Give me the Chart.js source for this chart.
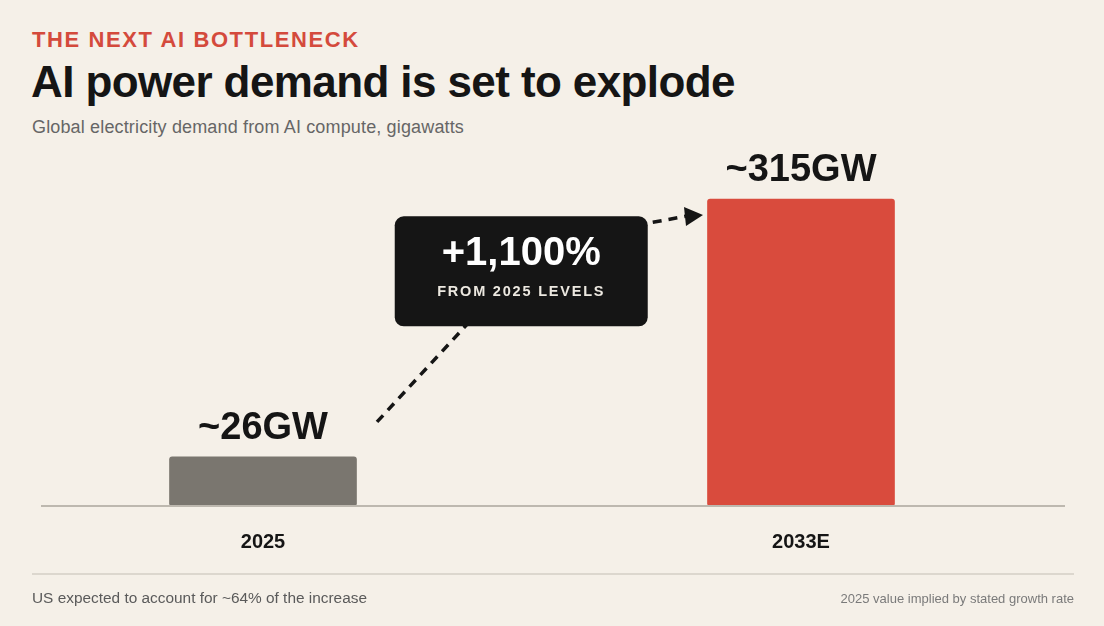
<!DOCTYPE html>
<html>
<head>
<meta charset="utf-8">
<script src="https://cdn.jsdelivr.net/npm/chart.js@4/dist/chart.umd.min.js"></script>
<style>
  html, body { margin: 0; padding: 0; }
  body {
    width: 1104px; height: 626px; overflow: hidden; position: relative;
    background: #f5f0e8; font-family: "Liberation Sans", Arial, Helvetica, sans-serif;
  }
  .kicker { position: absolute; left: 32px; top: 27px; font-size: 22px; font-weight: bold;
    letter-spacing: 1.6px; color: #d44a3c; }
  .title { position: absolute; left: 31px; top: 57px; font-size: 44px; font-weight: bold;
    color: #151515; letter-spacing: -0.6px; }
  .subtitle { position: absolute; left: 32px; top: 117px; font-size: 18px; color: #666;
    letter-spacing: 0.15px; }
  .rule { position: absolute; left: 32px; width: 1042px; top: 573px; height: 2px; background: #dcd7ce; }
  .foot-l { position: absolute; left: 32px; top: 589px; font-size: 15.4px; color: #5a5a5a; }
  .foot-r { position: absolute; right: 30px; top: 591px; font-size: 13px; color: #7a7a7a; }
  #wrap { position: absolute; left: -6px; top: 0; width: 1076px; height: 626px; }
</style>
</head>
<body>
<div class="kicker">THE NEXT AI BOTTLENECK</div>
<div class="title">AI power demand is set to explode</div>
<div class="subtitle">Global electricity demand from AI compute, gigawatts</div>
<div id="wrap"><canvas id="chart"></canvas></div>
<div class="rule"></div>
<div class="foot-l">US expected to account for ~64% of the increase</div>
<div class="foot-r">2025 value implied by stated growth rate</div>

<script>
// data
const years = ["2025", "2033E"];
const demandGW = [26, 315];
const barColors = ["#7a766f", "#d94b3d"];
const growthLabel = "+1,100%";
const growthSub = "FROM 2025 LEVELS";

// the short bar is lifted so it stays visible, like the original
const axisFloor = -29;
const axisTop = 370;

const FONT = '"Liberation Sans", Arial, Helvetica, sans-serif';

const annotations = {
  id: "annotations",
  afterDraw(chart) {
    const ctx = chart.ctx;
    const area = chart.chartArea;
    const x = chart.scales.x;
    const y = chart.scales.y;
    const bars = chart.getDatasetMeta(0).data;

    // baseline
    ctx.save();
    ctx.strokeStyle = "#bdb8af";
    ctx.lineWidth = 2;
    ctx.beginPath();
    ctx.moveTo(47, area.bottom);
    ctx.lineTo(1071, area.bottom);
    ctx.stroke();

    // value labels
    ctx.fillStyle = "#151515";
    ctx.font = "bold 38px " + FONT;
    ctx.textAlign = "center";
    ctx.textBaseline = "alphabetic";
    bars.forEach((bar, i) => {
      ctx.fillText("~" + demandGW[i] + "GW", bar.x, bar.y - 18);
    });

    // callout box position
    const cx = x.getPixelForValue(0.48);
    const cy = y.getPixelForValue(234);
    const bw = 253, bh = 110;
    const bx = cx - bw / 2, by = cy - bh / 2;

    // dashed arrow
    ctx.strokeStyle = "#151515";
    ctx.lineWidth = 3.5;
    ctx.setLineDash([9, 7]);
    ctx.beginPath();
    ctx.moveTo(bars[0].x + 114, y.getPixelForValue(demandGW[0]) - 35);
    ctx.lineTo(bx + 76, by + bh - 6);
    ctx.stroke();
    const tipX = bars[1].x - 98, tipY = bars[1].y + 16;
    ctx.beginPath();
    ctx.moveTo(bx + bw + 5, by + 6);
    ctx.lineTo(tipX - 16, tipY + 1);
    ctx.stroke();
    ctx.setLineDash([]);
    ctx.fillStyle = "#151515";
    ctx.beginPath();
    ctx.moveTo(tipX, tipY);
    ctx.lineTo(tipX - 19, tipY - 8);
    ctx.lineTo(tipX - 17, tipY + 11);
    ctx.closePath();
    ctx.fill();

    // box
    ctx.fillStyle = "#151515";
    ctx.beginPath();
    ctx.roundRect(bx, by, bw, bh, 9);
    ctx.fill();
    ctx.fillStyle = "#ffffff";
    ctx.font = "bold 40px " + FONT;
    ctx.fillText(growthLabel, cx, by + 49);
    ctx.fillStyle = "#ece8e0";
    ctx.font = "bold 14.5px " + FONT;
    ctx.letterSpacing = "1.8px";
    ctx.fillText(growthSub, cx, by + 80);
    ctx.restore();
  }
};

new Chart(document.getElementById("chart"), {
  type: "bar",
  data: {
    labels: years,
    datasets: [{
      data: demandGW,
      base: axisFloor,
      backgroundColor: barColors,
      barThickness: 187,
      borderRadius: 3,
      borderSkipped: false
    }]
  },
  options: {
    responsive: true,
    maintainAspectRatio: false,
    animation: false,
    layout: { padding: { top: 150, bottom: 60, left: 0, right: 0 } },
    plugins: { legend: { display: false }, tooltip: { enabled: false } },
    scales: {
      x: {
        grid: { display: false, drawTicks: false },
        border: { display: false },
        ticks: {
          color: "#151515",
          font: { family: FONT, size: 20, weight: "bold" },
          padding: 24
        },
        afterFit: (s) => { s.height = 60; }
      },
      y: {
        display: false,
        min: axisFloor,
        max: axisTop
      }
    }
  },
  plugins: [annotations]
});
</script>
</body>
</html>
